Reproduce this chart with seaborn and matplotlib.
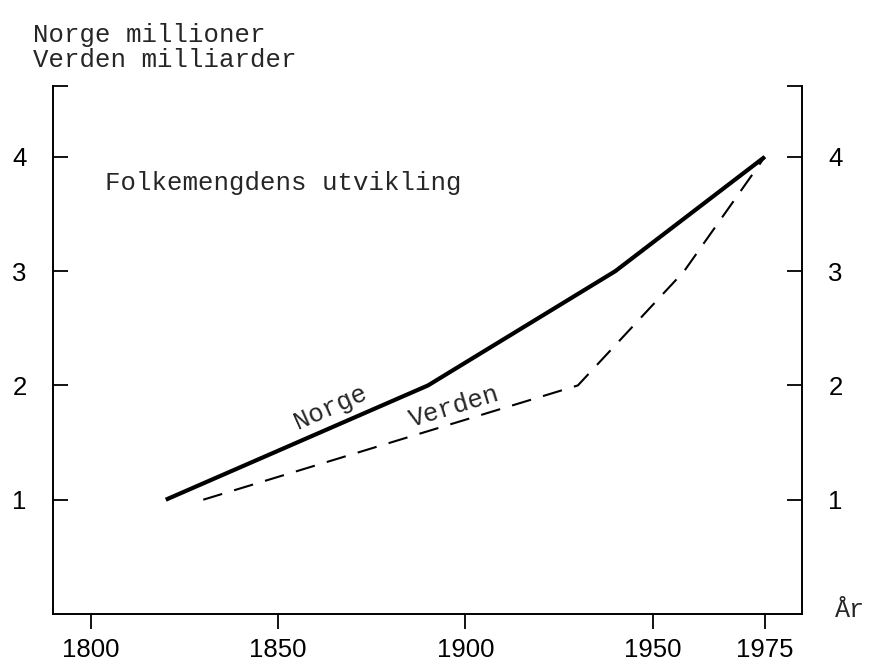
import matplotlib
matplotlib.use("Agg")
import matplotlib.pyplot as plt
import numpy as np
import pandas as pd
import seaborn as sns

# Folkemengdens utvikling: Norge (millioner) og Verden (milliarder)
norge_years = [1820, 1890, 1940, 1975]
norge_pop = [1.0, 2.0, 3.0, 4.0]
verden_years = [1830, 1930, 1957, 1975]
verden_pop = [1.0, 2.0, 3.0, 4.0]

x_ticks = [1800, 1850, 1900, 1950, 1975]
y_ticks = [1, 2, 3, 4]

# the drawn axis is stretched a bit after 1950
STRETCH = 1.196


def fwd(x):
    x = np.asarray(x, dtype=float)
    return np.where(x <= 1950, x, 1950 + (x - 1950) * STRETCH)


def inv(y):
    y = np.asarray(y, dtype=float)
    return np.where(y <= 1950, y, 1950 + (y - 1950) / STRETCH)


sns.set_theme(style="white")
plt.rcParams["font.family"] = ["Liberation Sans", "DejaVu Sans"]
mono = ["Liberation Mono", "DejaVu Sans Mono"]

norge = pd.DataFrame({"year": norge_years, "pop": norge_pop})
verden = pd.DataFrame({"year": verden_years, "pop": verden_pop})

fig = plt.figure(figsize=(8.7, 6.63), dpi=100)
ax = fig.add_axes([53 / 870, 49 / 663, 749 / 870, 528 / 663])
ax.set_xscale("function", functions=(fwd, inv))

sns.lineplot(data=verden, x="year", y="pop", ax=ax, color="black",
             linewidth=1.5, linestyle=(0, (9.5, 6)), sort=False)
sns.lineplot(data=norge, x="year", y="pop", ax=ax, color="black",
             linewidth=3.0, solid_capstyle="butt", sort=False)

ax.set_xlim(1789.9, 1983.3)
ax.set_ylim(0, 4.62)
ax.set_xticks(x_ticks)
ax.set_xticklabels([str(t) for t in x_ticks])
ax.set_yticks(y_ticks)
ax.set_yticklabels([str(t) for t in y_ticks])
ax.set_yticks([4.62], minor=True)
ax.xaxis.set_minor_locator(matplotlib.ticker.NullLocator())
ax.set_xlabel("")
ax.set_ylabel("")

for side in ["left", "right", "bottom"]:
    ax.spines[side].set_visible(True)
    ax.spines[side].set_linewidth(1.4)
    ax.spines[side].set_color("black")
ax.spines["top"].set_visible(False)

ax.tick_params(axis="x", which="major", direction="out", length=10.8, width=1.3,
               pad=6.5, labelsize=18.5, colors="black", bottom=True)
ax.tick_params(axis="y", which="both", direction="in", length=10.8, width=1.3,
               pad=19, labelsize=18.5, colors="black",
               left=True, right=True, labelleft=True, labelright=True)

# labels on the lines
ax.text(1864, 1.81, "Norge", family=mono, fontsize=18.5, rotation=24,
        rotation_mode="anchor", ha="center", va="center")
ax.text(1897, 1.81, "Verden", family=mono, fontsize=18.5, rotation=17,
        rotation_mode="anchor", ha="center", va="center")

fig.text(33 / 870, 1 - 42 / 663, "Norge millioner", family=mono, fontsize=18.5,
         va="baseline", ha="left")
fig.text(33 / 870, 1 - 67 / 663, "Verden milliarder", family=mono, fontsize=18.5,
         va="baseline", ha="left")
fig.text(105 / 870, 1 - 190 / 663, "Folkemengdens utvikling", family=mono,
         fontsize=18.5, va="baseline", ha="left")
fig.text(835 / 870, 1 - 617 / 663, "År", family=mono, fontsize=18,
         va="baseline", ha="left")

fig.savefig("out.png", dpi=100)
